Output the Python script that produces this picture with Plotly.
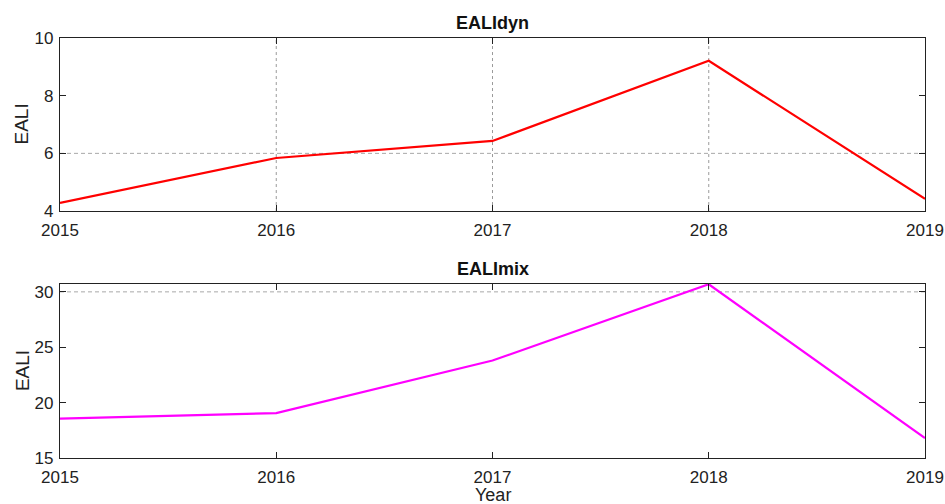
import plotly.graph_objects as go
from plotly.subplots import make_subplots

# Annual values
years = [2015, 2016, 2017, 2018, 2019]
eali_dyn = [4.28, 5.84, 6.43, 9.21, 4.42]
eali_mix = [18.55, 19.06, 23.8, 30.69, 16.8]

dyn_yticks = [4, 6, 8, 10]
mix_yticks = [15, 20, 25, 30]

FONT = "Liberation Sans, Arial, sans-serif"
TOP_DOMAIN = [0.588, 1.0]
BOTTOM_DOMAIN = [0.0, 0.414]

fig = make_subplots(rows=2, cols=1, vertical_spacing=0.174)

fig.add_trace(go.Scatter(x=years, y=eali_dyn, mode="lines",
                         line=dict(color="#ff0000", width=2.2),
                         showlegend=False), row=1, col=1)
fig.add_trace(go.Scatter(x=years, y=eali_mix, mode="lines",
                         line=dict(color="#ff00ff", width=2.2),
                         showlegend=False), row=2, col=1)

axis_common = dict(showline=True, linecolor="#222", linewidth=1.3, mirror="ticks",
                   ticks="inside", ticklen=6, tickcolor="#222", showgrid=False,
                   zeroline=False, automargin=False,
                   tickfont=dict(family=FONT, size=17, color="#222"))

fig.update_xaxes(range=[2015, 2019], tickvals=years, ticktext=[str(y) for y in years],
                 ticklabelstandoff=3, **axis_common)
fig.update_yaxes(ticklabelstandoff=2, **axis_common)
fig.update_yaxes(range=[4, 10], tickvals=dyn_yticks, domain=TOP_DOMAIN, row=1, col=1)
fig.update_yaxes(range=[15, 30.7], tickvals=mix_yticks, domain=BOTTOM_DOMAIN, row=2, col=1)

# partial grid lines
grid_dash = dict(color="#a8a8a8", width=1, dash="4px,3px")
grid_dot = dict(color="#9a9a9a", width=1, dash="dot")
for yv in [6]:
    fig.add_shape(type="line", xref="x", yref="y", x0=years[0], x1=years[-1],
                  y0=yv, y1=yv, line=grid_dash, layer="below")
for xv in years[1:-1]:
    fig.add_shape(type="line", xref="x", yref="y", x0=xv, x1=xv,
                  y0=dyn_yticks[0], y1=dyn_yticks[-1], line=grid_dot, layer="below")
for yv in [30]:
    fig.add_shape(type="line", xref="x2", yref="y2", x0=years[0], x1=years[-1],
                  y0=yv, y1=yv, line=grid_dash, layer="below")

# panel titles
for title, dom in [("EALIdyn", TOP_DOMAIN), ("EALImix", BOTTOM_DOMAIN)]:
    fig.add_annotation(text=f"<b>{title}</b>", xref="paper", yref="paper", x=0.5, y=dom[1],
                       yanchor="bottom", yshift=3, showarrow=False,
                       font=dict(family=FONT, size=18, color="#111"))
    # y-axis title
    fig.add_annotation(text="EALI", xref="paper", yref="paper", x=0,
                       y=(dom[0] + dom[1]) / 2, xanchor="center", yanchor="middle",
                       xshift=-38, textangle=-90, showarrow=False,
                       font=dict(family=FONT, size=19, color="#222"))

# x-axis title
fig.add_annotation(text="Year", xref="paper", yref="paper", x=0.5, y=0,
                   xanchor="center", yanchor="middle", yshift=-37, showarrow=False,
                   font=dict(family=FONT, size=18, color="#222"))

fig.update_layout(width=945, height=504, margin=dict(l=60, r=20, t=38, b=46),
                  paper_bgcolor="white", plot_bgcolor="white")

fig.write_html("out.html")
